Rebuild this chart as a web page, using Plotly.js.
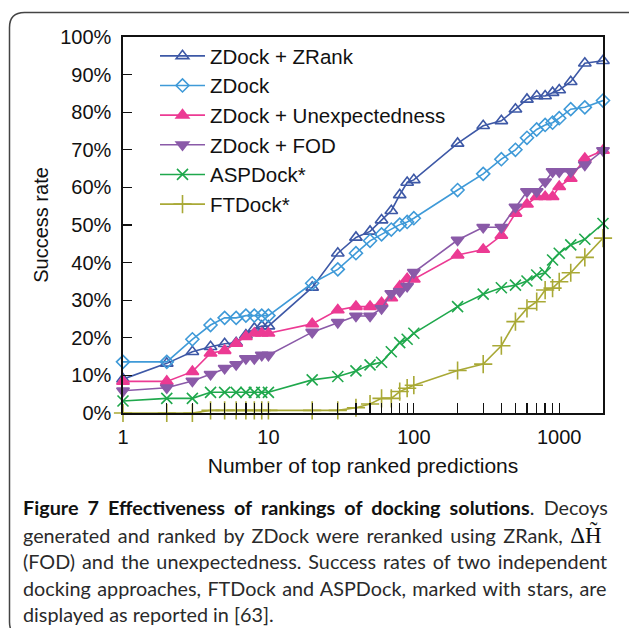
<!DOCTYPE html>
<html>
<head>
<meta charset="utf-8">
<script src="https://cdn.plot.ly/plotly-3.0.1.min.js"></script>
<style>html,body{margin:0;padding:0;background:#fff;}#chart{width:629px;height:628px;}</style>
</head>
<body>
<div id="chart"></div>
<script>
// ---- data ----
const topN = [1,2,3,4,5,6,7,8,9,10,20,30,40,50,60,70,80,90,100,200,300,400,500,600,700,800,900,1000,1200,1500,2000];
const zdockZrank = [9.0,13.2,16.3,17.6,18.4,18.7,20.7,22.5,23.1,23.1,33.4,42.5,46.7,48.3,51.3,53.8,58.0,61.3,62.0,71.7,76.4,77.7,80.8,83.4,84.3,84.3,85.2,85.9,88.1,93.0,93.7];
const zdock = [13.6,13.6,19.6,23.4,25.3,25.3,25.9,25.9,25.9,25.9,34.5,38.2,42.5,45.8,47.5,48.8,50.1,50.8,51.8,59.3,63.6,67.5,70.0,73.2,75.4,76.6,77.2,78.4,80.8,81.3,83.1];
const zdockUnexp = [8.4,8.4,11.0,15.9,16.6,18.5,20.3,21.2,21.2,21.2,23.7,27.4,28.3,28.3,29.3,30.6,33.7,35.7,35.6,42.0,43.5,47.2,53.1,55.5,57.5,57.5,57.5,60.2,62.4,67.7,69.8];
const zdockFod = [5.9,6.7,8.5,10.3,11.9,12.9,14.5,14.5,15.4,15.4,21.5,24.1,25.8,25.8,27.8,31.8,32.3,33.7,37.4,46.0,49.4,49.4,54.8,58.9,58.9,61.5,64.2,64.2,64.2,66.0,69.8];
const aspDock = [3.2,3.9,3.9,5.5,5.5,5.5,5.5,5.5,5.5,5.5,8.8,9.7,11.2,12.8,13.5,16.3,18.7,19.6,21.2,28.3,31.6,33.3,34.0,35.1,36.7,37.3,40.7,42.5,44.7,46.2,50.4];
const ftDock = [0,0,0,0.7,0.7,0.7,0.7,0.7,0.7,0.7,0.7,0.7,1.4,2.4,3.9,3.9,5.7,6.6,7.4,11.3,13.0,17.9,24.3,27.8,29.6,32.7,33.2,34.9,37.3,41.4,46.5];

const seriesNames = ['ZDock + ZRank','ZDock','ZDock + Unexpectedness','ZDock + FOD','ASPDock*','FTDock*'];
const xTickVals = [1,2,3,4,5,6,7,8,9,10,20,30,40,50,60,70,80,90,100,200,300,400,500,600,700,800,900,1000,2000];
const xTickText = ['1','','','','','','','','','10','','','','','','','','','100','','','','','','','','','1000',''];
// caption: each line is a list of [text, style] segments ('b' bold, 's' serif symbol, '' normal)
const captionLines = [
  [['Figure 7 Effectiveness of rankings of docking solutions','b'], ['. Decoys','']],
  [['generated and ranked by ZDock were reranked using ZRank, ',''], ['ΔH̃','s']],
  [['(FOD) and the unexpectedness. Success rates of two independent','']],
  [['docking approaches, FTDock and ASPDock, marked with stars, are','']],
  [['displayed as reported in [63].','']]
];

// ---- layout helpers ----
const W = 629, H = 628;
const M = {l:123, r:26, t:37, b:215};
const PW = W - M.l - M.r, PH = H - M.t - M.b;
const px2x = px => (px - M.l) / PW;
const py2y = py => (M.t + PH - py) / PH;

const styles = [
  {color:'#3d58a6', symbol:'triangle-up-open', size:11},
  {color:'#3f9ad8', symbol:'diamond-open', size:10},
  {color:'#ec3a93', symbol:'triangle-up', size:11},
  {color:'#8a5aa8', symbol:'triangle-down', size:11},
  {color:'#1fa84c', symbol:'x-thin-open', size:11},
  {color:'#a9a936', symbol:'cross-thin-open', size:13}
];
const ys = [zdockZrank, zdock, zdockUnexp, zdockFod, aspDock, ftDock];

const traces = ys.map((arr, i) => ({
  x: topN,
  y: arr.map(v => v / 100),
  type: 'scatter',
  mode: 'lines+markers',
  name: seriesNames[i],
  cliponaxis: false,
  line: {color: styles[i].color, width: 1.6},
  marker: {symbol: styles[i].symbol, size: styles[i].size, color: styles[i].color,
           line: {color: styles[i].color, width: 1.6}}
}));

const tickFont = {family:'Liberation Sans, Arial, sans-serif', size:20, color:'#111'};
const titleFont = {family:'Liberation Sans, Arial, sans-serif', size:21, color:'#111'};
const CAP_FAMILY = 'Lato', SYM_SIZE = 23;
const capCenters = [506.5, 534, 561, 588, 614];
const capLeft = 21.5;
const capRight = [607, 601, 606, 606, null];

// caption font size chosen so the justified lines need only small extra spacing
const cv = document.createElement('canvas').getContext('2d');
function segFont(st, size) {
  if (st === 's') return SYM_SIZE + "px 'Liberation Serif'";
  return (st === 'b' ? 'bold ' : '') + size + 'px ' + CAP_FAMILY;
}
function measure(segs, size) {
  let w = 0, sp = 0;
  segs.forEach(([t, st]) => {
    cv.font = segFont(st, size);
    w += cv.measureText(t).width;
    if (st !== 's') sp += (t.match(/ /g) || []).length;
  });
  return {w, sp};
}
let capSize = 30;
captionLines.forEach((segs, i) => {
  if (capRight[i] === null) return;
  const m16 = measure(segs, 16);
  let symW = 0;
  segs.forEach(([t, st]) => { if (st === 's') { cv.font = segFont('s', 16); symW += cv.measureText(t).width; } });
  const s = 16 * (capRight[i] - capLeft - symW) / (m16.w - symW);
  capSize = Math.min(capSize, s);
});
capSize = Math.floor(capSize * 0.985 * 10) / 10;
const capFont = {family: CAP_FAMILY + ', Open Sans, sans-serif', size: capSize, color:'#2a2a2a'};

function esc(s) { return s.replace(/&/g,'&amp;').replace(/</g,'&lt;').replace(/>/g,'&gt;'); }
function buildLine(segs, right) {
  const m = measure(segs, capSize);
  let ws = 0;
  if (right !== null && m.sp > 0) ws = Math.max(0, (right - capLeft - m.w) / m.sp);
  return segs.map(([t, st]) => {
    if (st === 's') return '<span style="font-family:\'Liberation Serif\',serif;font-size:' + SYM_SIZE + 'px;color:#111">' + esc(t) + '</span>';
    let css = 'word-spacing:' + ws.toFixed(2) + 'px';
    if (st === 'b') css += ';font-weight:bold;color:#111';
    return '<span style="' + css + '">' + esc(t) + '</span>';
  }).join('');
}

const annotations = captionLines.map((segs, i) => ({
  text: buildLine(segs, capRight[i]), xref:'paper', yref:'paper',
  x: px2x(capLeft), y: py2y(capCenters[i]),
  xanchor:'left', yanchor:'middle', showarrow:false, font: capFont, align:'left', borderpad: 0
}));

// rounded frame around the figure + caption
const L = 9.5, T = 12.5, R = 640, B = 637, rad = 15;
const framePath = 'M' + px2x(R) + ',' + py2y(T) +
  ' L' + px2x(L + rad) + ',' + py2y(T) +
  ' Q' + px2x(L) + ',' + py2y(T) + ' ' + px2x(L) + ',' + py2y(T + rad) +
  ' L' + px2x(L) + ',' + py2y(B - rad) +
  ' Q' + px2x(L) + ',' + py2y(B) + ' ' + px2x(L + rad) + ',' + py2y(B) +
  ' L' + px2x(R) + ',' + py2y(B);

const layout = {
  width: W, height: H,
  margin: M,
  paper_bgcolor:'#fff', plot_bgcolor:'#fff',
  showlegend: true,
  legend: {x: px2x(155), y: py2y(36), xanchor:'left', yanchor:'top',
           bgcolor:'rgba(0,0,0,0)', borderwidth:0, itemwidth: 45,
           font: {family:'Liberation Sans, Arial, sans-serif', size:20.5, color:'#111'}},
  xaxis: {
    type:'log', range:[0, Math.log10(2000)],
    tickvals: xTickVals, ticktext: xTickText,
    ticks:'inside', ticklen:10, tickwidth:1.3, tickcolor:'#111',
    showline:true, linewidth:1.6, linecolor:'#111', mirror:true,
    showgrid:false, zeroline:false, tickfont: tickFont, ticklabelstandoff: 5,
    title: {text:'Number of top ranked predictions', font: titleFont, standoff: 12}
  },
  yaxis: {
    range:[0,1], dtick:0.1, tickformat:'.0%',
    ticks:'inside', ticklen:9, tickwidth:1.3, tickcolor:'#111',
    showline:true, linewidth:1.6, linecolor:'#111', mirror:true,
    showgrid:false, zeroline:false, tickfont: tickFont, ticklabelstandoff: 6,
    title: {text:'Success rate', font: tickFont, standoff: 6}
  },
  yaxis2: {
    overlaying:'y', anchor:'x', side:'right', range:[0,1], dtick:0.2,
    ticks:'inside', ticklen:9, tickwidth:1.3, tickcolor:'#111',
    showticklabels:false, showline:false, showgrid:false, zeroline:false
  },
  annotations: annotations,
  shapes: [{type:'path', xref:'paper', yref:'paper', path: framePath,
            line:{color:'#444', width:1.5}, layer:'above'}]
};

Plotly.newPlot('chart', traces, layout, {displayModeBar:false, staticPlot:true});
</script>
</body>
</html>
